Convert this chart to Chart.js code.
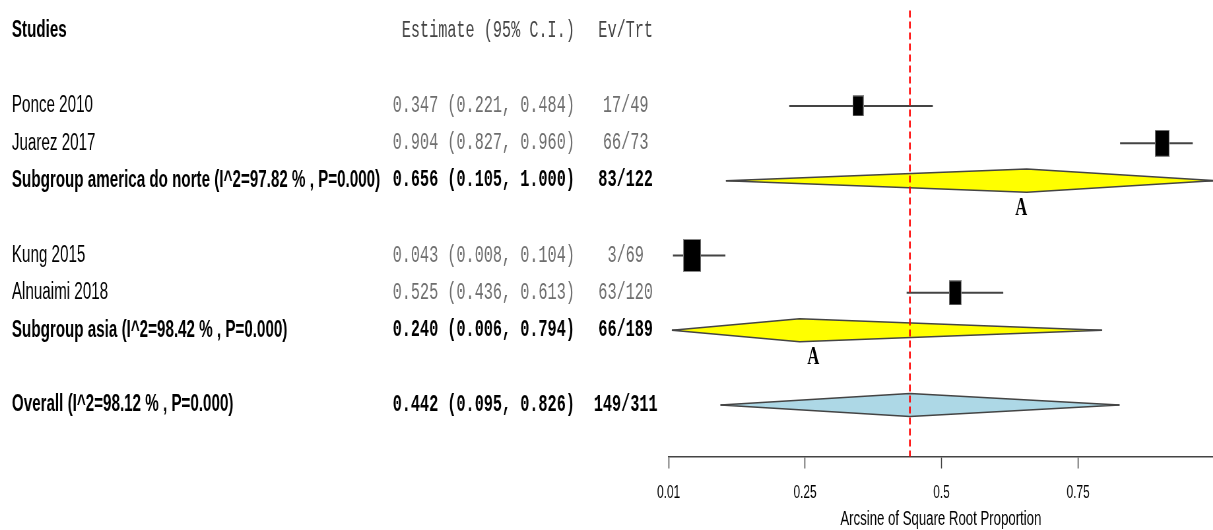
<!DOCTYPE html>
<html>
<head>
<meta charset="utf-8">
<script src="https://cdn.jsdelivr.net/npm/chart.js@4.4.1/dist/chart.umd.min.js"></script>
<style>
  html, body { margin: 0; padding: 0; background: #fff; overflow: hidden; }
  #wrap { width: 1213px; height: 530px; overflow: hidden; }
  /* the source picture is squeezed sideways, so draw wide and squeeze */
  #forest { transform: scaleX(0.66); transform-origin: 0 0; }
</style>
</head>
<body>
<div id="wrap"><canvas id="forest" width="1838" height="530"></canvas></div>
<script>
// studies
const studyNames = ['Ponce 2010', 'Juarez 2017', 'Kung 2015', 'Alnuaimi 2018'];
const studyRows = [2, 3, 6, 7];
const studyEst = [0.347, 0.904, 0.043, 0.525];
const studyLow = [0.221, 0.827, 0.008, 0.436];
const studyHigh = [0.484, 0.960, 0.104, 0.613];
const studyEvTrt = ['17/49', '66/73', '3/69', '63/120'];

// subgroups + overall
const sumNames = ['Subgroup america do norte (I^2=97.82 % , P=0.000)', 'Subgroup asia (I^2=98.42 % , P=0.000)', 'Overall (I^2=98.12 % , P=0.000)'];
const sumRows = [4, 8, 10];
const sumEst = [0.656, 0.240, 0.442];
const sumLow = [0.105, 0.006, 0.095];
const sumHigh = [1.000, 0.794, 0.826];
const sumEvTrt = ['83/122', '66/189', '149/311'];

// "A" marks under the subgroup diamonds
const letterText = ['A', 'A'];
const letterX = [0.646, 0.265];
const letterRow = [4.75, 8.72];

const tickValues = [0, 0.25, 0.5, 0.75];
const tickLabels = ['0.01', '0.25', '0.5', '0.75'];
const refValue = 0.442;

// styles
const boxSizes = [[17, 21], [22, 27], [27, 33], [19, 25]];
const diamondFill = ['#ffff00', '#ffff00', '#add8e6'];
const DIAMOND_H = 0.31;
const SANS = '"Liberation Sans", Arial, sans-serif';
const MONO = '"Liberation Mono", "Courier New", monospace';

function makeBox(w, h) {
  const c = document.createElement('canvas');
  c.width = w; c.height = h;
  const g = c.getContext('2d');
  g.fillStyle = '#000';
  g.fillRect(0, 0, w, h);
  g.strokeStyle = '#888';
  g.lineWidth = 1;
  g.strokeRect(0.5, 0.5, w - 1, h - 1);
  return c;
}

const fmt = v => v.toFixed(3);

const refLine = {
  data: [{ x: refValue, y: -0.55 }, { x: refValue, y: 11.4 }],
  showLine: true, borderColor: '#ff0000', borderWidth: 2.5,
  borderDash: [7, 4], pointRadius: 0
};

const boxes = {
  data: studyRows.map((r, i) => ({ x: studyEst[i], y: r })),
  pointStyle: boxSizes.map(s => makeBox(s[0], s[1])),
  pointRadius: 10
};

const ciLines = studyRows.map((r, i) => ({
  data: [{ x: studyLow[i], y: r }, { x: studyHigh[i], y: r }],
  showLine: true, borderColor: '#444', borderWidth: 2, pointRadius: 0
}));

const diamonds = sumRows.map((r, i) => ({
  data: [
    { x: sumLow[i], y: r },
    { x: sumEst[i], y: r - DIAMOND_H },
    { x: sumHigh[i], y: r },
    { x: sumEst[i], y: r + DIAMOND_H },
    { x: sumLow[i], y: r }
  ],
  showLine: true, fill: 'shape', backgroundColor: diamondFill[i],
  borderColor: '#444', borderWidth: 1.5, pointRadius: 0, tension: 0
}));

const sumLines = sumRows.map((r, i) => ({
  data: [{ x: sumLow[i], y: r }, { x: sumHigh[i], y: r }],
  showLine: true, borderColor: '#444', borderWidth: 1.5, pointRadius: 0
}));

const tablePlugin = {
  id: 'table',
  afterDraw(chart) {
    const ctx = chart.ctx;
    const ys = chart.scales.y, xs = chart.scales.x;
    const nameX = 18, estX = 871, evX = 948;
    ctx.save();
    ctx.textBaseline = 'middle';

    let y = ys.getPixelForValue(0);
    ctx.fillStyle = '#000';
    ctx.font = 'bold 23px ' + SANS;
    ctx.textAlign = 'left';
    ctx.fillText('Studies', nameX, y);
    ctx.fillStyle = '#444';
    ctx.font = '23px ' + MONO;
    ctx.textAlign = 'right';
    ctx.fillText('Estimate (95% C.I.)', estX, y);
    ctx.textAlign = 'center';
    ctx.fillText('Ev/Trt', evX, y);

    studyRows.forEach((r, i) => {
      y = ys.getPixelForValue(r);
      ctx.fillStyle = '#000';
      ctx.font = '23px ' + SANS;
      ctx.textAlign = 'left';
      ctx.fillText(studyNames[i], nameX, y);
      ctx.fillStyle = '#6e6e6e';
      ctx.font = '23px ' + MONO;
      ctx.textAlign = 'right';
      ctx.fillText(`${fmt(studyEst[i])} (${fmt(studyLow[i])}, ${fmt(studyHigh[i])})`, estX, y);
      ctx.textAlign = 'center';
      ctx.fillText(studyEvTrt[i], evX, y);
    });

    sumRows.forEach((r, i) => {
      y = ys.getPixelForValue(r);
      ctx.fillStyle = '#000';
      ctx.font = 'bold 23px ' + SANS;
      ctx.textAlign = 'left';
      ctx.fillText(sumNames[i], nameX, y);
      ctx.font = 'bold 23px ' + MONO;
      ctx.textAlign = 'right';
      ctx.fillText(`${fmt(sumEst[i])} (${fmt(sumLow[i])}, ${fmt(sumHigh[i])})`, estX, y);
      ctx.textAlign = 'center';
      ctx.fillText(sumEvTrt[i], evX, y);
    });

    ctx.font = 'bold 25px "Liberation Serif", "Times New Roman", serif';
    ctx.textAlign = 'center';
    letterText.forEach((t, i) => {
      ctx.fillText(t, xs.getPixelForValue(letterX[i]), ys.getPixelForValue(letterRow[i]));
    });
    ctx.restore();
  }
};

new Chart(document.getElementById('forest'), {
  type: 'scatter',
  data: { datasets: [refLine, boxes, ...ciLines, ...diamonds, ...sumLines] },
  options: {
    responsive: false,
    animation: false,
    events: [],
    layout: { autoPadding: false, padding: { left: 1013, right: 0, top: 0, bottom: 0 } },
    plugins: { legend: { display: false }, tooltip: { enabled: false } },
    scales: {
      x: {
        type: 'linear', position: 'bottom',
        min: 0, max: 0.9973,
        afterBuildTicks: s => { s.ticks = tickValues.map(v => ({ value: v })); },
        afterFit: s => { s.height = 73.5; },
        border: { display: true, color: '#444', width: 1.5 },
        grid: { display: true, drawOnChartArea: false, drawTicks: true, tickLength: 12, tickColor: '#444', tickWidth: 1.5, color: '#444' },
        ticks: {
          autoSkip: false, maxRotation: 0, padding: 14, color: '#000',
          font: { family: SANS, size: 18 },
          callback: (v, i) => tickLabels[i]
        },
        title: {
          display: true, text: 'Arcsine of Square Root Proportion', color: '#000',
          font: { family: SANS, size: 20, lineHeight: 1 },
          padding: { top: 0, bottom: 1 }
        }
      },
      y: {
        type: 'linear', display: false, reverse: true,
        min: -0.833, max: 11.377
      }
    }
  },
  plugins: [tablePlugin]
});
</script>
</body>
</html>
